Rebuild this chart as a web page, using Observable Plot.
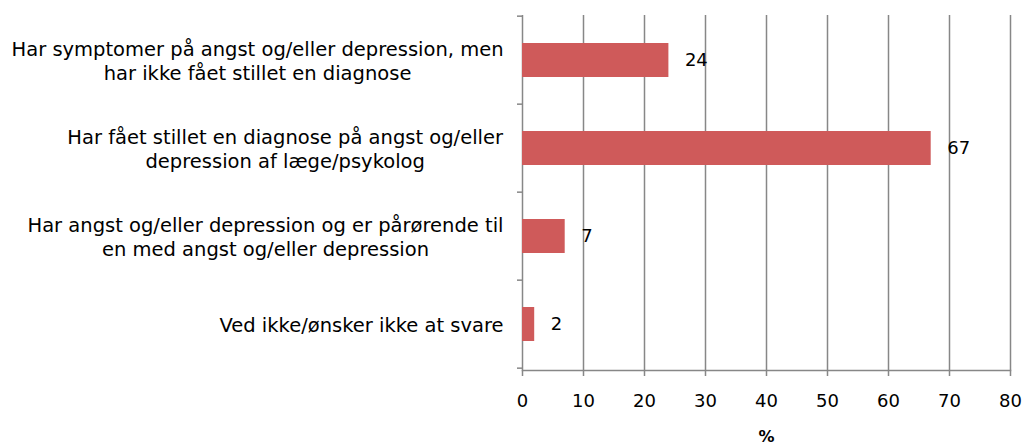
<!DOCTYPE html>
<html>
<head>
<meta charset="utf-8">
<script src="https://cdn.jsdelivr.net/npm/d3@7"></script>
<script src="https://cdn.jsdelivr.net/npm/@observablehq/plot@0.6"></script>
<style>
  html, body { margin: 0; padding: 0; background: #fff; }
  #chart svg { display: block; }
</style>
</head>
<body>
<div id="chart"></div>
<script>
const categories = [
  "Har symptomer på angst og/eller depression, men\nhar ikke fået stillet en diagnose",
  "Har fået stillet en diagnose på angst og/eller\ndepression af læge/psykolog",
  "Har angst og/eller depression og er pårørende til\nen med angst og/eller depression",
  "Ved ikke/ønsker ikke at svare"
];
const values = [24, 67, 7, 2];
const xTicks = [0, 10, 20, 30, 40, 50, 60, 70, 80];
const axisTitle = "%";

const data = categories.map((c, i) => ({category: c, value: values[i]}));
const gray = "#878787";
const font = "'DejaVu Sans', sans-serif";

const plot = Plot.plot({
  width: 1024,
  height: 445,
  marginLeft: 522,
  marginRight: 14,
  marginTop: 15,
  marginBottom: 75,
  style: {fontFamily: font, color: "#000", background: "#fff"},
  x: {domain: [0, 80], ticks: xTicks, label: null},
  y: {domain: categories, paddingInner: 0.61, paddingOuter: 0.305, label: null},
  marks: [
    Plot.gridX(xTicks, {stroke: gray, strokeOpacity: 1, strokeWidth: 1.5}),
    Plot.frame({anchor: "bottom", stroke: gray, strokeWidth: 1.5}),
    Plot.barX(data, {x: "value", y: "category", fill: "#cf5a5a"}),
    Plot.text(data, {x: "value", y: "category", text: d => String(d.value),
      textAnchor: "start", dx: 16, fontSize: 18, fill: "#000"}),
    Plot.axisX({ticks: xTicks, tickSize: 6, tickPadding: 18, fontSize: 18,
      stroke: gray, strokeWidth: 1.5, label: null, tickFormat: d => String(d)}),
    Plot.axisY({tickSize: 0, tickPadding: 19, fontSize: 19.5, lineHeight: 1.23,
      label: null}),
    Plot.text([axisTitle], {frameAnchor: "bottom", dy: 71, fontSize: 16,
      fontWeight: "bold", text: d => d, fill: "#000"})
  ]
});

document.getElementById("chart").appendChild(plot);

// band boundary ticks on the y axis, from the library's y scale
const ys = plot.scale("y");
const xs = plot.scale("x");
const svg = d3.select(plot);
const step = ys.step;
const first = ys.apply(categories[0]) - step * ys.paddingOuter;
const edges = [];
for (let i = 0; i <= categories.length; i++) edges.push(first + i * step);
const x0 = xs.apply(0);
svg.append("g").selectAll("line").data(edges).join("line")
  .attr("x1", x0 - 5).attr("x2", x0)
  .attr("y1", d => d).attr("y2", d => d)
  .attr("stroke", gray).attr("stroke-width", 1.5);

// center multi-line category labels within their block (right edge kept)
svg.selectAll("g[aria-label='y-axis tick label'] text").each(function() {
  const bb = this.getBBox();
  const t = d3.select(this);
  t.attr("text-anchor", "middle");
  const tr = t.attr("transform") || "";
  t.attr("transform", tr + ` translate(${-bb.width / 2},0)`);
});
</script>
</body>
</html>
